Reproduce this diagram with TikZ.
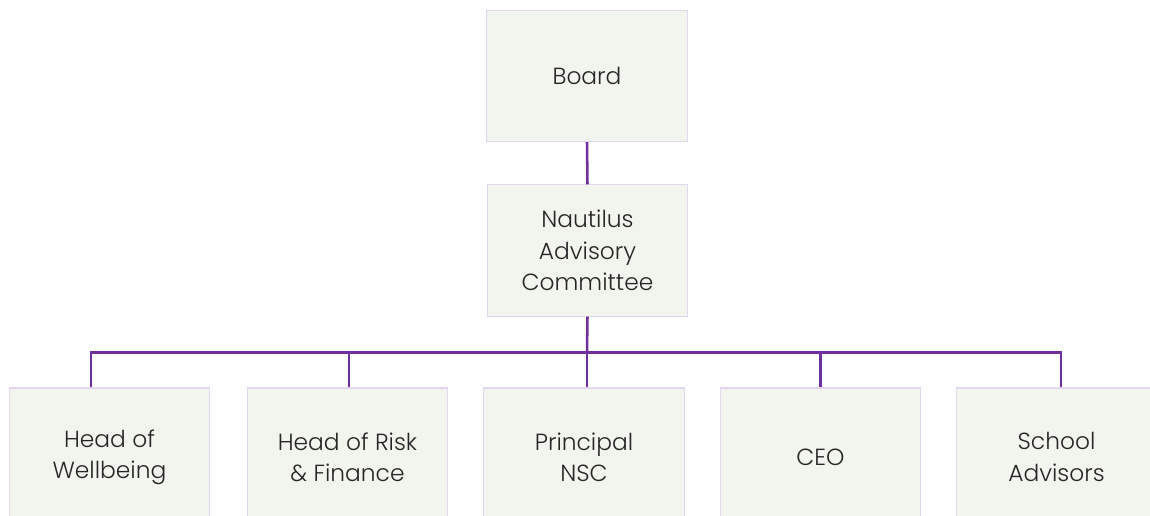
\documentclass[tikz,border=0pt]{standalone}
\usepackage{fontspec}
\setmainfont{Poppins}[UprightFont=* Light]
\usepackage{xcolor}
\usetikzlibrary{positioning}
\definecolor{linkpurple}{HTML}{7030A0}
\definecolor{boxedge}{HTML}{E3D6EF}
\definecolor{boxfill}{HTML}{F2F4EE}
\definecolor{boxtext}{HTML}{262626}
\begin{document}
\begin{tikzpicture}[x=0.75pt,y=-0.75pt]
\tikzstyle{unit}=[draw=boxedge,line width=0.8pt,fill=boxfill,minimum width=150.5pt,minimum height=98.5pt,inner sep=0pt,align=center,text=boxtext,font=\fontsize{17.5}{23.5}\selectfont]
\tikzstyle{leaf}=[unit,minimum height=103.5pt]
\tikzstyle{link}=[draw=linkpurple,line width=1.9pt]
\useasboundingbox (0,0) rectangle (1150,515);
\begin{scope}
\clip (0,0) rectangle (1150,515);
\node [unit] (board) at (587,76) {Board};
\node [unit] (nac) at (587.5,250.5) {Nautilus\\Advisory\\Committee};
\node [leaf] (wb) at (109.5,457) {Head of\\Wellbeing};
\node [leaf] (rf) at (347.5,457) {Head of Risk\\\& Finance};
\node [leaf] (nsc) at (584,457) {Principal\\NSC};
\node [leaf] (ceo) at (820.5,457) {CEO};
\node [leaf] (sa) at (1056.5,457) {School\\Advisors};
\coordinate (bar) at (587,352.5);
\draw [link] (board.south) -- (nac.north);
\draw [link] (nac.south) -- (bar);
\draw [link] ([xshift=-13.9pt]wb.north) |- (bar);
\draw [link] ([xshift=3.4pt]sa.north) |- (bar);
\draw [link] ([xshift=1.1pt]rf.north) -- ([xshift=1.1pt]rf.north |- bar);
\draw [link] ([xshift=2.3pt]nsc.north) -- ([xshift=2.3pt]nsc.north |- bar);
\draw [link] (ceo.north) -- (ceo.north |- bar);
\end{scope}
\end{tikzpicture}
\end{document}
